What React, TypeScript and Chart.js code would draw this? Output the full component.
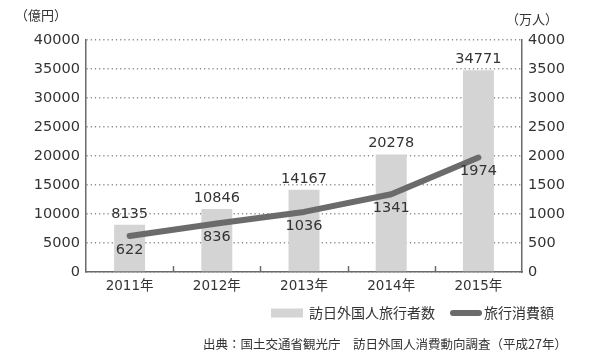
import React, { useEffect, useRef } from "react";
import { Chart, registerables } from "chart.js";

Chart.register(...registerables);

const categories = ["2011年", "2012年", "2013年", "2014年", "2015年"];
const barValues = [8135, 10846, 14167, 20278, 34771];
const lineValues = [622, 836, 1036, 1341, 1974];
const barLabel = "訪日外国人旅行者数";
const lineLabel = "旅行消費額";
const leftUnit = "（億円）";
const rightUnit = "（万人）";
const sourceText = "出典：国土交通省観光庁　訪日外国人消費動向調査（平成27年）";

const NUM_FONT = "'DejaVu Sans', 'Noto Sans CJK JP', sans-serif";
const CJK_FONT = "'Noto Sans CJK JP', sans-serif";
const TEXT = "#333333";
const BAR_COLOR = "#d4d4d4";
const LINE_COLOR = "#6b6b6b";
const AXIS_COLOR = "#6a6a6a";

const decorPlugin = {
  id: "decor",
  beforeDatasetsDraw(chart: any) {
    const ctx = chart.ctx;
    const x = chart.scales.x;
    const area = chart.chartArea;
    ctx.save();
    ctx.strokeStyle = AXIS_COLOR;
    ctx.lineWidth = 1.5;
    for (let i = 1; i < categories.length; i++) {
      const px = Math.round((x.getPixelForValue(i - 1) + x.getPixelForValue(i)) / 2) + 0.5;
      ctx.beginPath();
      ctx.moveTo(px, area.bottom);
      ctx.lineTo(px, area.bottom - 6);
      ctx.stroke();
    }
    ctx.restore();
  },
  afterDatasetsDraw(chart: any) {
    const ctx = chart.ctx;
    ctx.save();
    ctx.fillStyle = TEXT;
    ctx.font = `14.5px ${NUM_FONT}`;
    ctx.textAlign = "center";
    ctx.textBaseline = "middle";
    const barMeta = chart.getDatasetMeta(0);
    barMeta.data.forEach((el: any, i: number) => {
      ctx.fillText(String(barValues[i]), el.x, el.y - 11);
    });
    const lineMeta = chart.getDatasetMeta(1);
    lineMeta.data.forEach((el: any, i: number) => {
      ctx.fillText(String(lineValues[i]), el.x, el.y + 14);
    });
    ctx.restore();
  },
  afterDraw(chart: any) {
    const ctx = chart.ctx;
    const area = chart.chartArea;
    ctx.save();
    ctx.fillStyle = TEXT;
    ctx.textBaseline = "middle";
    ctx.textAlign = "center";
    ctx.font = `13px ${CJK_FONT}`;
    ctx.fillText(leftUnit, area.left - 45, 15);
    ctx.fillText(rightUnit, area.right + 10, 19);

    // legend
    const ly = 313;
    ctx.fillStyle = BAR_COLOR;
    ctx.fillRect(271, ly - 4.5, 32, 9);
    ctx.fillStyle = TEXT;
    ctx.textAlign = "left";
    ctx.font = `14px ${CJK_FONT}`;
    ctx.fillText(barLabel, 309, ly);
    ctx.strokeStyle = LINE_COLOR;
    ctx.lineWidth = 6;
    ctx.lineCap = "round";
    ctx.beginPath();
    ctx.moveTo(453, ly);
    ctx.lineTo(479, ly);
    ctx.stroke();
    ctx.fillText(lineLabel, 484, ly);

    ctx.font = `12.5px ${CJK_FONT}`;
    ctx.fillText(sourceText, 203, 344);
    ctx.restore();
  },
};

export default function App() {
  const ref = useRef<HTMLCanvasElement>(null);
  useEffect(() => {
    if (!ref.current) return;
    const chart = new Chart(ref.current, {
      type: "bar",
      data: {
        labels: categories,
        datasets: [
          {
            type: "bar",
            label: barLabel,
            data: barValues,
            backgroundColor: BAR_COLOR,
            yAxisID: "y",
            categoryPercentage: 1,
            barPercentage: 0.355,
            order: 2,
          },
          {
            type: "line",
            label: lineLabel,
            data: lineValues,
            borderColor: LINE_COLOR,
            backgroundColor: LINE_COLOR,
            borderWidth: 6,
            pointRadius: 0,
            tension: 0,
            borderCapStyle: "round",
            borderJoinStyle: "round",
            yAxisID: "y1",
            order: 1,
          } as any,
        ],
      },
      options: {
        responsive: false,
        animation: false,
        layout: { padding: { top: 40, bottom: 57, left: 0, right: 0 } },
        plugins: {
          legend: { display: false },
          tooltip: { enabled: false },
        },
        scales: {
          x: {
            offset: true,
            grid: { display: false, drawTicks: false },
            border: { display: true, color: AXIS_COLOR, width: 1.5 },
            ticks: { color: TEXT, font: { family: NUM_FONT, size: 13.5 }, padding: 6 },
            afterFit: (s: any) => { s.width = s.width; s.height = 28; },
          },
          y: {
            position: "left",
            min: 0,
            max: 40000,
            ticks: {
              stepSize: 5000,
              color: TEXT,
              font: { family: NUM_FONT, size: 14.5 },
              padding: 6,
              callback: (v: any) => String(v),
            },
            grid: { color: "#8a8a8a", lineWidth: 1.5, drawTicks: false },
            border: { display: true, color: AXIS_COLOR, width: 1.5, dash: [1.2, 3] },
            afterFit: (s: any) => { s.width = 86; },
          },
          y1: {
            position: "right",
            min: 0,
            max: 4000,
            ticks: {
              stepSize: 500,
              color: TEXT,
              font: { family: NUM_FONT, size: 14.5 },
              padding: 6,
              callback: (v: any) => String(v),
            },
            grid: { drawOnChartArea: false, drawTicks: false },
            border: { display: true, color: AXIS_COLOR, width: 1.5 },
            afterFit: (s: any) => { s.width = 78; },
          },
        },
      },
      plugins: [decorPlugin],
    });
    return () => chart.destroy();
  }, []);
  return (
    <div style={{ position: "absolute", left: 0, top: 0, width: 600, height: 357, background: "#fff" }}>
      <canvas ref={ref} width={600} height={357} />
    </div>
  );
}
